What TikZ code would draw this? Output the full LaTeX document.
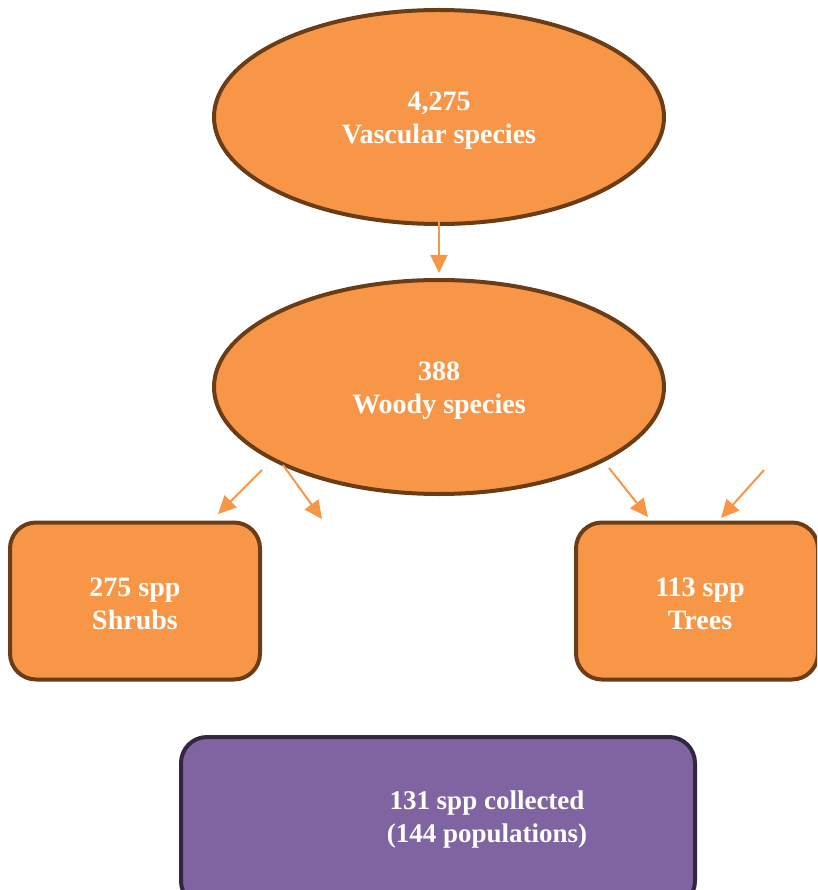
\documentclass[tikz,border=0pt]{standalone}
\usepackage{fontspec}
\setmainfont{Liberation Serif}
\usetikzlibrary{arrows.meta,shapes.geometric}
\definecolor{boxorange}{HTML}{F79646}
\definecolor{boxbrown}{HTML}{6B3D17}
\definecolor{boxpurple}{HTML}{8064A2}
\definecolor{boxdark}{HTML}{33263F}
\begin{document}
\begin{tikzpicture}[x=1pt,y=-1pt,
	level/.style={ellipse,draw=boxbrown,fill=boxorange,line width=4pt,minimum width=450pt,minimum height=214pt,inner sep=0pt},
	group/.style={rectangle,rounded corners=26pt,draw=boxbrown,fill=boxorange,line width=4pt,minimum width=250pt,minimum height=157pt},
	label/.style={text=white,font=\bfseries\fontsize{28}{33}\selectfont,align=center},
	flow/.style={draw=boxorange,line width=2pt,-{Triangle[length=18pt,width=17pt]}}]
		\useasboundingbox (0,0) rectangle (817,890);
		\clip (0,0) rectangle (817,890);
		
		%ellipses
		\node[level](vascular) at (439,117) {};
		\node[label] at (439,121) {4,275\\Vascular species};
		\node[level](woody) at (439,387) {};
		\node[label] at (439,391) {388\\Woody species};
		%boxes
		\node[group](shrubs) at (135,601) {};
		\node[label] at (135,604) {275 spp\\Shrubs};
		\node[group,minimum width=242pt](trees) at (697,601) {};
		\node[label] at (700,604) {113 spp\\Trees};
		\node[group,draw=boxdark,fill=boxpurple,minimum width=514pt,minimum height=170pt](collected) at (438,822) {};
		\node[label,font=\bfseries\fontsize{27}{33}\selectfont] at (487,819) {131 spp collected\\(144 populations)};
		
		%arrows
		\coordinate (a1) at (439,205);
		\coordinate (b1) at (439,273);
		\coordinate (a2) at (262,470);
		\coordinate (b2) at (218,514);
		\coordinate (a3) at (283,465);
		\coordinate (b3) at (322,519);
		\coordinate (a4) at (609,468);
		\coordinate (b4) at (648,517);
		\coordinate (a5) at (764,470);
		\coordinate (b5) at (721,518);
		\draw[flow] (a1) -- (b1);
		\draw[flow] (a2) -- (b2);
		\draw[flow] (a3) -- (b3);
		\draw[flow] (a4) -- (b4);
		\draw[flow] (a5) -- (b5);
		\end{tikzpicture}
\end{document}
